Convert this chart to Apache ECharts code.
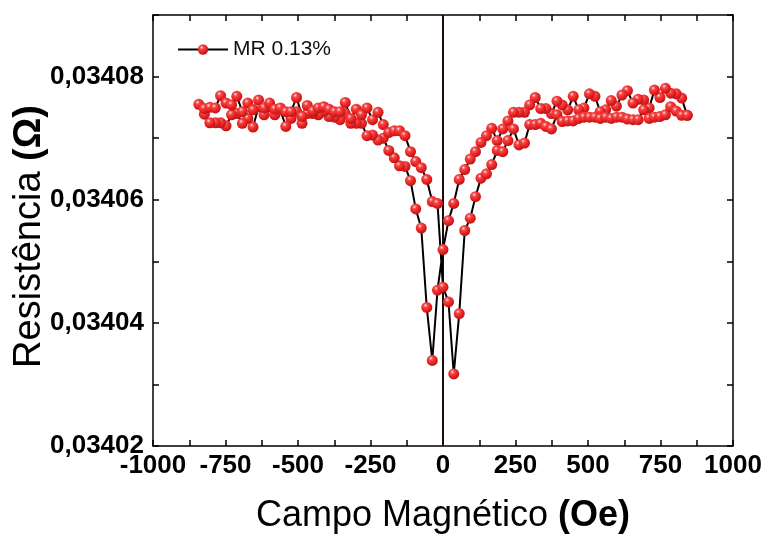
<!DOCTYPE html>
<html>
<head>
<meta charset="utf-8">
<script src="https://cdn.jsdelivr.net/npm/echarts@6/dist/echarts.min.js"></script>
<style>
  html, body { margin: 0; padding: 0; background: #fff; }
  #chart { width: 763px; height: 535px; }
</style>
</head>
<body>
<div id="chart"></div>
<script>
// Magnetic field sweep from +H to -H (Oe) and measured resistance (Ohm)
const campoDescida = [842, 823, 804, 785, 767, 748, 729, 711, 692, 673, 655, 636, 617, 598, 580, 561, 542, 524, 505, 486, 468, 449, 430, 411, 393, 374, 355, 337, 318, 299, 281, 262, 243, 224, 206, 187, 168, 150, 131, 112, 94, 75, 56, 37, 19, 0, -19, -37, -56, -75, -94, -112, -131, -150, -168, -187, -206, -224, -243, -262, -281, -299, -318, -337, -355, -374, -393, -411, -430, -449, -468, -486, -505, -524, -542, -561, -580, -598, -617, -636, -655, -673, -692, -711, -729, -748, -767, -785, -804, -823, -842];
const resDescida = [
  0.0340737, 0.0340765, 0.0340772, 0.0340773, 0.0340781, 0.0340766, 0.0340778, 0.0340749, 0.0340762, 0.0340763,
  0.0340757, 0.0340777, 0.0340770, 0.0340752, 0.0340761, 0.0340746, 0.0340743, 0.0340768, 0.0340772, 0.0340749,
  0.0340746, 0.0340768, 0.0340746, 0.0340754, 0.0340760, 0.0340740, 0.0340748, 0.0340748, 0.0340766, 0.0340754,
  0.0340742, 0.0340742, 0.0340742, 0.0340728, 0.0340715, 0.0340696, 0.0340716, 0.0340704, 0.0340693, 0.0340678,
  0.0340666, 0.0340649, 0.0340633, 0.0340594, 0.0340566, 0.0340519, 0.0340453, 0.0340339, 0.0340425, 0.0340554,
  0.0340585, 0.0340631, 0.0340654, 0.0340655, 0.0340668, 0.0340680, 0.0340700, 0.0340697, 0.0340705, 0.0340704,
  0.0340724, 0.0340724, 0.0340724, 0.0340740, 0.0340730, 0.0340734, 0.0340735, 0.0340743, 0.0340738, 0.0340740,
  0.0340740, 0.0340724, 0.0340743, 0.0340732, 0.0340719, 0.0340746, 0.0340738, 0.0340751, 0.0340738, 0.0340751,
  0.0340718, 0.0340732, 0.0340724, 0.0340740, 0.0340738, 0.0340720, 0.0340725, 0.0340725, 0.0340725, 0.0340739,
  0.0340755
];

// Return sweep from -H to +H
const campoSubida = [-823, -804, -785, -767, -748, -729, -711, -692, -673, -655, -636, -617, -598, -580, -561, -542, -524, -505, -486, -468, -449, -430, -411, -393, -374, -355, -337, -318, -299, -281, -262, -243, -224, -206, -187, -168, -150, -131, -112, -94, -75, -56, -37, -19, 0, 19, 37, 56, 75, 94, 112, 131, 150, 168, 187, 206, 224, 243, 262, 281, 299, 318, 337, 355, 374, 393, 411, 430, 449, 468, 486, 505, 524, 542, 561, 580, 598, 617, 636, 655, 673, 692, 711, 729, 748, 767, 785, 804, 823, 842];
const resSubida = [
  0.0340748, 0.0340750, 0.0340749, 0.0340769, 0.0340757, 0.0340754, 0.0340768, 0.0340743, 0.0340757, 0.0340746,
  0.0340762, 0.0340749, 0.0340757, 0.0340747, 0.0340749, 0.0340743, 0.0340743, 0.0340766, 0.0340735, 0.0340753,
  0.0340744, 0.0340749, 0.0340751, 0.0340747, 0.0340743, 0.0340743, 0.0340758, 0.0340732, 0.0340747, 0.0340738,
  0.0340749, 0.0340730, 0.0340742, 0.0340722, 0.0340709, 0.0340712, 0.0340712, 0.0340704, 0.0340678, 0.0340662,
  0.0340652, 0.0340633, 0.0340597, 0.0340594, 0.0340458, 0.0340434, 0.0340317, 0.0340415, 0.0340550, 0.0340570,
  0.0340605, 0.0340635, 0.0340642, 0.0340657, 0.0340680, 0.0340678, 0.0340696, 0.0340715, 0.0340689, 0.0340692,
  0.0340722, 0.0340722, 0.0340724, 0.0340719, 0.0340715, 0.0340738, 0.0340727, 0.0340728, 0.0340728, 0.0340732,
  0.0340734, 0.0340734, 0.0340734, 0.0340732, 0.0340734, 0.0340732, 0.0340734, 0.0340734, 0.0340731, 0.0340730,
  0.0340730, 0.0340746, 0.0340732, 0.0340734, 0.0340735, 0.0340738, 0.0340751, 0.0340744, 0.0340737, 0.0340737
];

const nomeSerie = 'MR 0.13%';
const eixoX = { min: -1000, max: 1000, passo: 125, rotulo: 250 };
const eixoY = { min: 0.03402, max: 0.03409, passo: 0.00001 };

const pontos = [];
campoDescida.forEach((h, i) => pontos.push([h, resDescida[i]]));
campoSubida.forEach((h, i) => pontos.push([h, resSubida[i]]));

const fonte = '"Liberation Sans", Arial, Helvetica, sans-serif';
const preto = '#000';

// shaded sphere markers
const bola = {
  type: 'radial', x: 0.38, y: 0.32, r: 0.7,
  colorStops: [
    { offset: 0, color: '#ffe4e4' },
    { offset: 0.25, color: '#f44a4a' },
    { offset: 0.65, color: '#e82020' },
    { offset: 1, color: '#b51515' }
  ]
};

const rotuloX = v => (Math.round(v) % eixoX.rotulo === 0 ? String(v) : '');
const rotuloY = v => (Math.round(v * 1e5) % 2 === 0 ? v.toFixed(5).replace('.', ',') : '');

const tickDentro = { show: true, inside: true, length: 6, lineStyle: { color: preto, width: 1.5 } };
const linhaEixo = { show: true, onZero: false, lineStyle: { color: preto, width: 1.5 } };

const chart = echarts.init(document.getElementById('chart'), null, { renderer: 'canvas' });
chart.setOption({
  backgroundColor: '#fff',
  animation: false,
  grid: { left: 153, right: 30, top: 15, bottom: 89, containLabel: false, outerBoundsMode: 'none' },
  legend: {
    data: [nomeSerie],
    left: 172, top: 34,
    itemWidth: 50, itemHeight: 13, itemGap: 6,
    textStyle: { fontFamily: fonte, fontSize: 21, color: '#111' }
  },
  xAxis: [
    {
      type: 'value', position: 'bottom',
      min: eixoX.min, max: eixoX.max, interval: eixoX.passo,
      axisLine: linhaEixo, axisTick: tickDentro, splitLine: { show: false },
      axisLabel: {
        formatter: rotuloX, margin: 7, color: preto,
        fontFamily: fonte, fontWeight: 'bold', fontSize: 26
      },
      name: '{n|Campo Magnético }{b|(Oe)}',
      nameLocation: 'middle', nameGap: 52, nameMoveOverlap: false,
      nameTextStyle: {
        rich: {
          n: { fontFamily: fonte, fontSize: 36, color: preto },
          b: { fontFamily: fonte, fontSize: 36, fontWeight: 'bold', color: preto }
        }
      }
    },
    {
      type: 'value', position: 'top',
      min: eixoX.min, max: eixoX.max, interval: eixoX.passo,
      axisLine: linhaEixo, axisTick: tickDentro, splitLine: { show: false },
      axisLabel: { show: false }
    }
  ],
  yAxis: [
    {
      type: 'value', position: 'left',
      min: eixoY.min, max: eixoY.max, interval: eixoY.passo,
      axisLine: linhaEixo, axisTick: tickDentro, splitLine: { show: false },
      axisLabel: {
        formatter: rotuloY, margin: 9, color: preto,
        fontFamily: fonte, fontWeight: 'bold', fontSize: 26
      },
      name: '{n|Resistência }{b|(Ω)}',
      nameLocation: 'middle', nameGap: 104, nameRotate: 90, nameMoveOverlap: false,
      nameTextStyle: {
        padding: [0, 12, 0, 0],
        rich: {
          n: { fontFamily: fonte, fontSize: 38, color: preto },
          b: { fontFamily: fonte, fontSize: 38, fontWeight: 'bold', color: preto }
        }
      }
    },
    {
      type: 'value', position: 'right',
      min: eixoY.min, max: eixoY.max, interval: eixoY.passo,
      axisLine: linhaEixo, axisTick: tickDentro, splitLine: { show: false },
      axisLabel: { show: false }
    }
  ],
  series: [
    {
      name: 'zero', type: 'line', z: 1,
      data: [[0, eixoY.min], [0, eixoY.max]],
      showSymbol: false, symbol: 'none',
      lineStyle: { color: '#1a0a0a', width: 2 },
      silent: true
    },
    {
      name: nomeSerie, type: 'line', z: 3,
      data: pontos,
      symbol: 'circle', symbolSize: 11, showAllSymbol: true,
      lineStyle: { color: preto, width: 2 },
      itemStyle: { color: bola, borderWidth: 0 },
      emphasis: { disabled: true }
    }
  ]
});
</script>
</body>
</html>
